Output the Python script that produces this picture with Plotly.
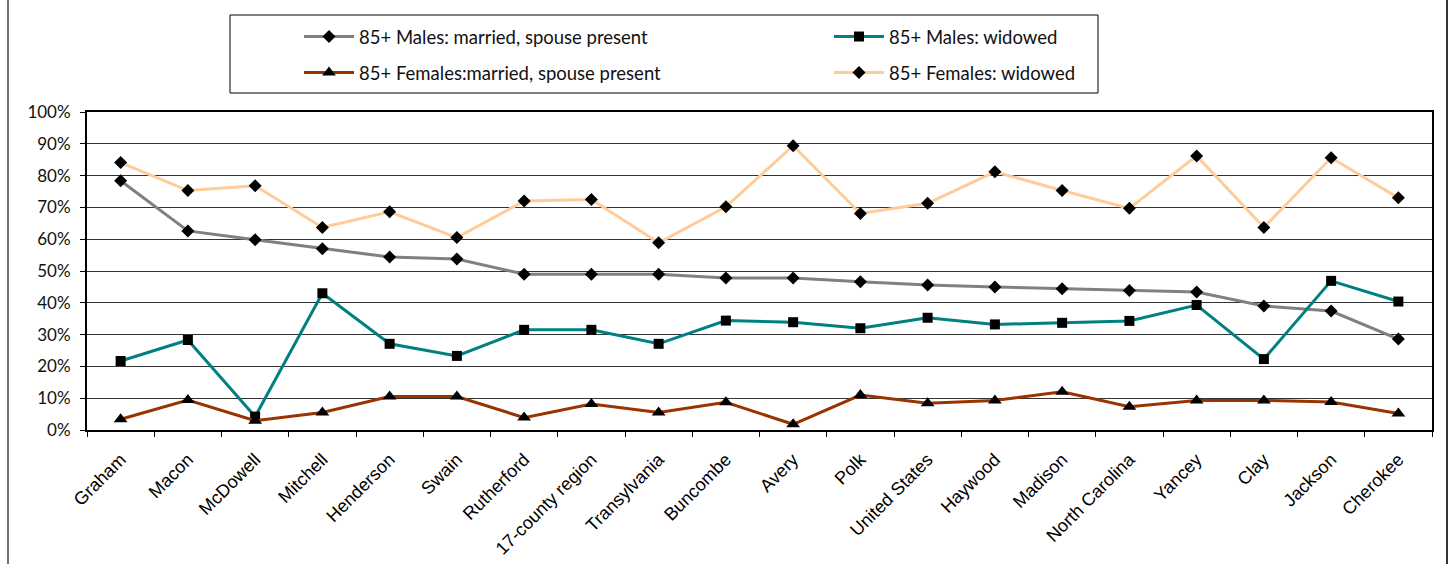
import plotly.graph_objects as go

# categories along the x axis
places = ["Graham", "Macon", "McDowell", "Mitchell", "Henderson", "Swain", "Rutherford",
          "17-county region", "Transylvania", "Buncombe", "Avery", "Polk", "United States",
          "Haywood", "Madison", "North Carolina", "Yancey", "Clay", "Jackson", "Cherokee"]

# shares (fraction of 85+ population)
males_married = [0.784, 0.626, 0.598, 0.570, 0.544, 0.538, 0.490, 0.490, 0.490, 0.478,
                 0.478, 0.466, 0.456, 0.450, 0.444, 0.439, 0.434, 0.390, 0.374, 0.286]
males_widowed = [0.217, 0.283, 0.042, 0.430, 0.271, 0.233, 0.315, 0.315, 0.271, 0.344,
                 0.339, 0.320, 0.353, 0.332, 0.337, 0.343, 0.393, 0.223, 0.469, 0.404]
females_married = [0.034, 0.094, 0.029, 0.055, 0.105, 0.105, 0.039, 0.082, 0.055, 0.087,
                   0.018, 0.110, 0.084, 0.093, 0.120, 0.073, 0.093, 0.093, 0.088, 0.052]
females_widowed = [0.841, 0.753, 0.768, 0.637, 0.686, 0.605, 0.720, 0.725, 0.589, 0.702,
                   0.894, 0.681, 0.713, 0.812, 0.753, 0.697, 0.862, 0.637, 0.856, 0.730]

# plot area in pixels (for placing paper-relative shapes)
L, R, T, B = 87, 1432, 112, 430
W, H = R - L, B - T


def px_x(x):
    return (x - L) / W


def px_y(y):
    return (B - y) / H


fig = go.Figure()

series = [
    ("85+ Males: married, spouse present", males_married, "#808080", "diamond", 10, "legend"),
    ("85+ Males: widowed", males_widowed, "#008080", "square", 10, "legend"),
    ("85+ Females:married, spouse present", females_married, "#993300", "triangle-up", 12, "legend2"),
    ("85+ Females: widowed", females_widowed, "#FFCC99", "diamond", 10, "legend2"),
]
for name, vals, color, sym, size, lg in series:
    fig.add_trace(go.Scatter(
        x=places, y=vals, name=name, mode="lines+markers",
        line=dict(color=color, width=3),
        marker=dict(symbol=sym, size=size, color="black"),
        legend=lg,
    ))

legend_font = dict(family="Lato, Open Sans, sans-serif", size=18.5, color="#111")

fig.update_layout(
    width=1455, height=564,
    margin=dict(l=L, r=1455 - R, t=T, b=564 - B),
    paper_bgcolor="white", plot_bgcolor="white",
    legend=dict(orientation="h", x=px_x(299), y=px_y(37), xanchor="left", yanchor="middle",
                entrywidth=465, entrywidthmode="pixels", font=legend_font,
                bgcolor="rgba(0,0,0,0)", itemwidth=50),
    legend2=dict(orientation="h", x=px_x(299), y=px_y(73), xanchor="left", yanchor="middle",
                 entrywidth=465, entrywidthmode="pixels", font=legend_font,
                 bgcolor="rgba(0,0,0,0)", itemwidth=50),
    shapes=[
        dict(type="rect", xref="paper", yref="paper",
             x0=px_x(230), x1=px_x(1098), y0=px_y(93), y1=px_y(15),
             line=dict(color="black", width=1), fillcolor="white", layer="below"),
        dict(type="line", xref="paper", yref="paper",
             x0=px_x(8), x1=px_x(8), y0=px_y(-5), y1=px_y(570),
             line=dict(color="#444", width=1.5)),
        dict(type="line", xref="paper", yref="paper",
             x0=px_x(1447), x1=px_x(1447), y0=px_y(-5), y1=px_y(570),
             line=dict(color="#333", width=2)),
    ],
)

fig.update_xaxes(
    type="category", range=[-0.5, len(places) - 0.5], automargin=False,
    showline=True, linecolor="black", linewidth=2, mirror=True,
    ticks="outside", tickson="boundaries", ticklen=5, tickcolor="black",
    tickangle=-45, showgrid=False, ticklabelstandoff=10,
    tickfont=dict(family="Liberation Sans, Arial, sans-serif", size=18, color="black"),
)
fig.update_yaxes(
    range=[0, 1], dtick=0.1, tickformat=".0%", automargin=False,
    showline=True, linecolor="black", linewidth=2, mirror=True,
    ticks="outside", ticklen=5, tickcolor="black",
    showgrid=True, gridcolor="#333", gridwidth=1, zeroline=False, ticklabelstandoff=6,
    tickfont=dict(family="Lato, Open Sans, sans-serif", size=17, color="#111"),
)

fig.write_html("out.html", config={"displayModeBar": False},
               post_script="document.body.style.margin='0';document.body.style.overflow='hidden';")
